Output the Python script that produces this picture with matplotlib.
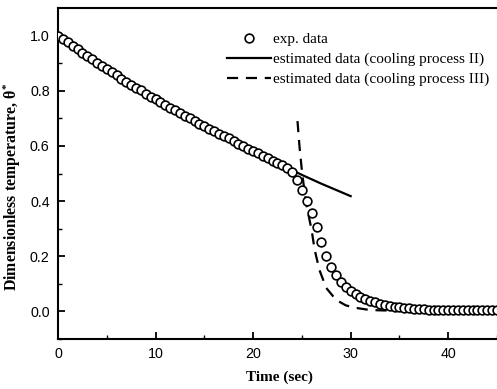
import matplotlib
matplotlib.use("Agg")
import matplotlib.pyplot as plt
import numpy as np

plt.rcParams['mathtext.fontset'] = 'custom'
plt.rcParams['mathtext.rm'] = 'Liberation Serif:bold'
plt.rcParams['mathtext.it'] = 'Liberation Serif:bold'
plt.rcParams['mathtext.bf'] = 'Liberation Serif:bold'

# experimental data (every 0.5 s)
exp_t = [i * 0.5 for i in range(91)]
exp_theta = [
    1.000, 0.987, 0.975, 0.962, 0.950, 0.938, 0.926, 0.914, 0.902, 0.890,
    0.879, 0.867, 0.856, 0.844, 0.833, 0.822, 0.811, 0.801, 0.790, 0.779,
    0.769, 0.759, 0.749, 0.739, 0.729, 0.719, 0.709, 0.700, 0.690, 0.681,
    0.672, 0.662, 0.653, 0.645, 0.636, 0.627, 0.617, 0.608, 0.599, 0.590,
    0.581, 0.573, 0.564, 0.556, 0.547, 0.539, 0.530, 0.520, 0.506, 0.478,
    0.440, 0.400, 0.356, 0.306, 0.250, 0.200, 0.162, 0.132, 0.108, 0.090,
    0.075, 0.064, 0.054, 0.046, 0.039, 0.033, 0.028, 0.024, 0.020, 0.017,
    0.015, 0.013, 0.011, 0.009, 0.008, 0.007, 0.006, 0.005, 0.005, 0.004,
    0.004, 0.004, 0.004, 0.004, 0.004, 0.004, 0.004, 0.004, 0.004, 0.004,
    0.004,
]

# estimated data, cooling process II
est2_t = list(range(31))
est2_theta = [
    1.000, 0.975, 0.950, 0.926, 0.902, 0.879, 0.856, 0.833, 0.811, 0.790,
    0.769, 0.749, 0.729, 0.709, 0.690, 0.672, 0.653, 0.636, 0.617, 0.599,
    0.581, 0.564, 0.547, 0.530, 0.512, 0.495, 0.479, 0.463, 0.448, 0.433,
    0.418,
]

# estimated data, cooling process III
est3_t = [24.55, 24.75, 25.0, 25.25, 25.5, 26.0, 26.3, 26.8, 27.5, 28.5,
          29.5, 30.5, 32.0, 34.0, 38.0, 45.0]
est3_theta = [0.690, 0.600, 0.510, 0.440, 0.380, 0.295, 0.225, 0.150, 0.085,
              0.042, 0.022, 0.013, 0.005, 0.003, 0.002, 0.002]

x_ticks = [0, 10, 20, 30, 40]
y_ticks = [0.0, 0.2, 0.4, 0.6, 0.8, 1.0]

fig = plt.figure(figsize=(4.97, 3.89), dpi=100)
ax = fig.add_axes([0.1167, 0.1285, 0.8833, 0.8509])

ax.plot(est2_t, est2_theta, color='black', lw=1.6, zorder=2,
        label='estimated data (cooling process II)')
ax.plot(est3_t, est3_theta, color='black', lw=1.6, ls=(0, (5, 3.5)), zorder=2,
        label='estimated data (cooling process III)')
ax.plot(exp_t, exp_theta, ls='none', marker='o', ms=6.3, mfc='white',
        mec='black', mew=1.2, zorder=3, label='exp. data')

ax.set_xlim(0, 45)
ax.set_ylim(-0.1, 1.1)
ax.set_xticks(x_ticks)
ax.set_xticklabels([str(v) for v in x_ticks])
ax.set_yticks(y_ticks)
ax.set_yticklabels(['%.1f' % v for v in y_ticks])
ax.set_xticks([5, 15, 25, 35, 45], minor=True)
ax.set_yticks([-0.1, 0.1, 0.3, 0.5, 0.7, 0.9], minor=True)

ax.tick_params(which='major', direction='in', length=5, width=1.3,
               labelsize=10.3, pad=6)
ax.tick_params(which='minor', direction='in', length=3, width=1.0)
for lab in ax.get_xticklabels() + ax.get_yticklabels():
    lab.set_family(['Liberation Sans', 'DejaVu Sans'])

ax.spines['right'].set_visible(False)
for s in ['left', 'bottom', 'top']:
    ax.spines[s].set_linewidth(1.5)

ax.set_xlabel('Time (sec)', family='Liberation Serif', fontweight='bold',
              fontsize=11)
ax.set_ylabel(r'Dimensionless temperature, $\mathrm{\theta}^{*}$',
              family='Liberation Serif', fontweight='bold', fontsize=11.4)
ax.xaxis.set_label_coords(0.505, -0.094)
ax.yaxis.set_label_coords(-0.08, 0.459)

handles, labels = ax.get_legend_handles_labels()
order = [2, 0, 1]
leg = ax.legend([handles[i] for i in order], [labels[i] for i in order],
                loc='upper right', bbox_to_anchor=(1.0, 0.95), frameon=False,
                numpoints=1, handlelength=2.9, handletextpad=0.12,
                labelspacing=0.42, borderaxespad=0.1,
                prop={'family': 'Liberation Serif', 'size': 11.0})

fig.savefig('out.png', dpi=100)
